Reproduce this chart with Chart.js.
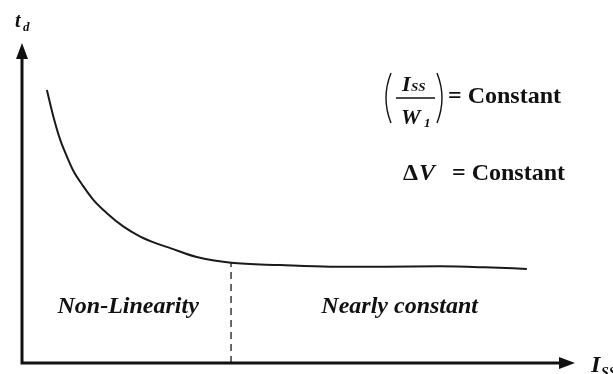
<!DOCTYPE html>
<html>
<head>
<meta charset="utf-8">
<script src="https://cdn.jsdelivr.net/npm/chart.js@4.4.1/dist/chart.umd.min.js"></script>
<style>
  html, body { margin: 0; padding: 0; background: #fff; }
  #wrap { width: 613px; height: 374px; position: relative; }
</style>
</head>
<body>
<div id="wrap"><canvas id="chart"></canvas></div>
<script>
// delay time t_d versus tail current I_SS (arbitrary units)
const issValues = [4.5, 5.7, 6.9, 8.1, 9.3, 11.1, 12.9, 15.3, 18.3, 21.3, 24.4, 26.8, 31.6, 37.8, 46.7, 55.7, 65.6, 75.6, 83.7, 91.3]
const tdValues = [85.3, 76.8, 69.8, 64.6, 60.0, 55.2, 51.0, 46.9, 42.7, 39.6, 37.3, 35.9, 33.1, 31.3, 30.6, 30.1, 30.1, 30.2, 29.9, 29.4]

// boundary between the two regions
const boundaryIss = [37.8, 37.8]
const boundaryTd = [0, 31.3]

const regionLabels = ["Non-Linearity", "Nearly constant"]
const regionCenters = [19.2, 68.3]

const serif = "'Liberation Serif', 'Times New Roman', serif"

const axesPlugin = {
  id: "arrowAxes",
  afterDraw(chart) {
    const { ctx, chartArea } = chart
    const { left, right, top, bottom } = chartArea
    ctx.save()
    ctx.strokeStyle = "#111"
    ctx.fillStyle = "#111"
    ctx.lineWidth = 3
    ctx.beginPath()
    ctx.moveTo(left, top + 10)
    ctx.lineTo(left, bottom)
    ctx.lineTo(right - 10, bottom)
    ctx.stroke()

    // arrow heads
    ctx.beginPath()
    ctx.moveTo(left, top)
    ctx.lineTo(left - 6, top + 16)
    ctx.lineTo(left + 6, top + 16)
    ctx.closePath()
    ctx.fill()
    ctx.beginPath()
    ctx.moveTo(right, bottom)
    ctx.lineTo(right - 16, bottom - 6)
    ctx.lineTo(right - 16, bottom + 6)
    ctx.closePath()
    ctx.fill()

    ctx.textBaseline = "alphabetic"
    ctx.textAlign = "left"

    // axis names
    ctx.font = `bold italic 20px ${serif}`
    ctx.fillText("t", 15, 27)
    ctx.font = `bold italic 13px ${serif}`
    ctx.fillText("d", 23, 31)
    ctx.font = `bold italic 24px ${serif}`
    ctx.fillText("I", 591, 372)
    ctx.font = `bold italic 14px ${serif}`
    ctx.fillText("SS", 601, 377)

    // region labels
    const x = chart.scales.x
    ctx.font = `bold italic 24px ${serif}`
    ctx.textAlign = "center"
    regionLabels.forEach((label, i) => {
      ctx.fillText(label, x.getPixelForValue(regionCenters[i]), 313)
    })

    // (I_SS / W_1) = Constant
    ctx.textAlign = "left"
    ctx.font = `bold italic 22px ${serif}`
    ctx.fillText("I", 402, 91)
    ctx.fillText("W", 401, 124)
    ctx.font = `bold italic 13px ${serif}`
    ctx.fillText("SS", 411, 91)
    ctx.fillText("1", 424, 127)
    ctx.lineWidth = 1.5
    ctx.beginPath()
    ctx.moveTo(396, 98)
    ctx.lineTo(435, 98)
    ctx.stroke()
    ctx.lineWidth = 1.4
    ctx.beginPath()
    ctx.moveTo(391, 73)
    ctx.quadraticCurveTo(381, 98, 391, 123)
    ctx.stroke()
    ctx.beginPath()
    ctx.moveTo(437, 73)
    ctx.quadraticCurveTo(447, 98, 437, 123)
    ctx.stroke()

    ctx.font = `bold 24px ${serif}`
    ctx.fillText("= Constant", 448, 103)

    // ΔV = Constant
    ctx.fillText("Δ", 403, 180)
    ctx.font = `bold italic 24px ${serif}`
    ctx.fillText("V", 419, 180)
    ctx.font = `bold 24px ${serif}`
    ctx.fillText("= Constant", 452, 180)
    ctx.restore()
  }
}

new Chart(document.getElementById("chart"), {
  type: "line",
  data: {
    datasets: [
      {
        data: issValues.map((v, i) => ({ x: v, y: tdValues[i] })),
        borderColor: "#1a1a1a",
        borderWidth: 2,
        pointRadius: 0,
        cubicInterpolationMode: "monotone",
        fill: false
      },
      {
        data: boundaryIss.map((v, i) => ({ x: v, y: boundaryTd[i] })),
        borderColor: "#2a2a2a",
        borderWidth: 1.4,
        borderDash: [7, 5],
        pointRadius: 0,
        fill: false
      }
    ]
  },
  options: {
    responsive: true,
    maintainAspectRatio: false,
    animation: false,
    layout: { padding: { left: 22, right: 38, top: 43, bottom: 11 } },
    plugins: {
      legend: { display: false },
      tooltip: { enabled: false }
    },
    scales: {
      x: { type: "linear", min: 0, max: 100, display: false },
      y: { min: 0, max: 100, display: false }
    }
  },
  plugins: [axesPlugin]
})
</script>
</body>
</html>
